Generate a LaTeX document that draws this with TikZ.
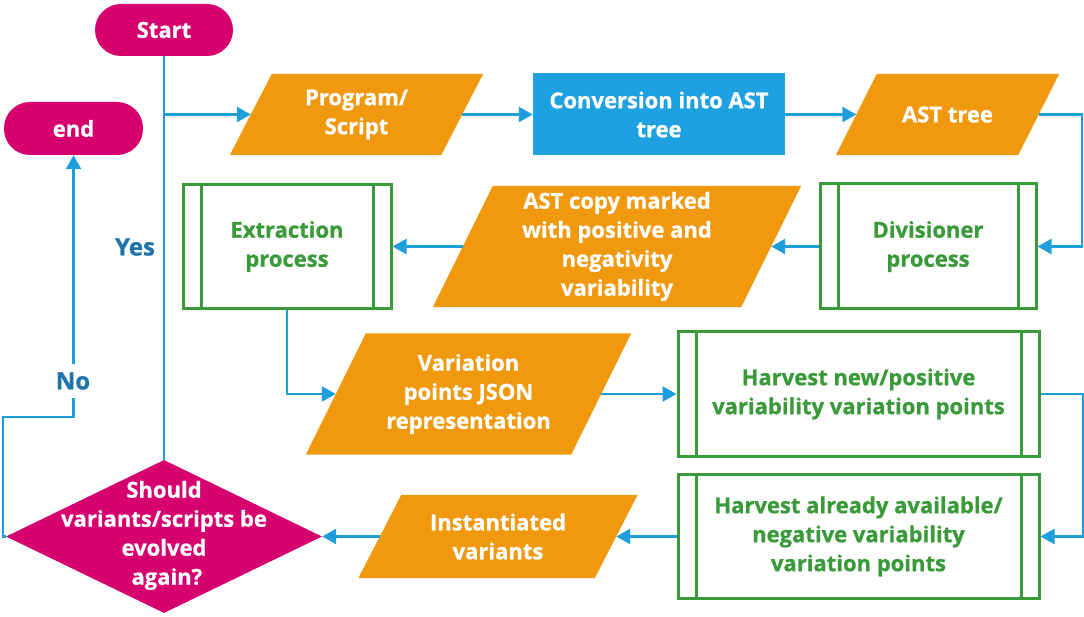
\documentclass[tikz,border=0pt]{standalone}
\usepackage{fontspec}
\setmainfont{Open Sans}[BoldFont={Open Sans Bold}, BoldFeatures={FakeBold=0.8}]
\usetikzlibrary{arrows.meta,shapes.geometric,backgrounds}

\definecolor{termc}{HTML}{D6006F}
\definecolor{iocol}{HTML}{F0980E}
\definecolor{convc}{HTML}{1EA1E0}
\definecolor{flowc}{HTML}{1E9FDB}
\definecolor{procc}{HTML}{3A9A3A}
\definecolor{labc}{HTML}{1F74AC}

% slanted input/output box drawn behind a named node
\newcommand{\parafill}[2]{%
  \fill[iocol] ([xshift=-#2pt]#1.south west) -- ([xshift=#2pt]#1.north west)
    -- ([xshift=#2pt]#1.north east) -- ([xshift=-#2pt]#1.south east) -- cycle;}

\tikzset{
  txt/.style={font=\bfseries\fontsize{22}{29}\selectfont, align=center, inner sep=0pt},
  term/.style={txt, fill=termc, text=white, rounded corners=26pt},
  iobox/.style={txt, text=white},
  convbox/.style={txt, fill=convc, text=white},
  procbox/.style={txt, text=procc, draw=procc, line width=3pt,
    path picture={
      \draw[procc, line width=3pt]
        ([xshift=18pt]path picture bounding box.north west) -- ([xshift=18pt]path picture bounding box.south west)
        ([xshift=-18pt]path picture bounding box.north east) -- ([xshift=-18pt]path picture bounding box.south east);
    }},
  decbox/.style={shape=diamond, fill=termc, inner sep=0pt},
  link/.style={draw=flowc, line width=2.4pt},
  flow/.style={link, -{Triangle[length=14pt,width=15pt]}},
  answer/.style={font=\bfseries\fontsize{24}{28}\selectfont, text=labc, inner sep=0pt},
}

\begin{document}
\begin{tikzpicture}[x=1pt, y=-1pt]
\useasboundingbox (0,0) rectangle (1084,617);

% terminals
\node[term, minimum width=138pt, minimum height=52pt] (start) at (164,30) {Start};
\node[term, minimum width=139pt, minimum height=53pt] (stop) at (73.5,128.5) {end};

% top row
\node[iobox, minimum width=211pt, minimum height=81pt] (prog) at (356.5,114.5) {Program/\\Script};
\node[convbox, minimum width=252pt, minimum height=82pt] (conv) at (659,114.5) {Conversion into AST\\tree};
\node[iobox, minimum width=182pt, minimum height=81pt] (ast) at (947.5,114.5) {AST tree};

% second row
\node[procbox, minimum width=216pt, minimum height=125pt] (div) at (928,246.5) {Divisioner\\process};
\node[iobox, minimum width=308pt, minimum height=121pt] (copy) at (617,246.5) {AST copy marked\\with positive and\\negativity\\variability};
\node[procbox, minimum width=208pt, minimum height=124pt] (extr) at (287,246.5) {Extraction\\process};

% third row
\node[iobox, minimum width=265pt, minimum height=121pt] (var) at (468.5,394) {Variation\\points JSON\\representation};
\node[procbox, minimum width=361pt, minimum height=124pt] (hnew) at (858.5,394) {Harvest new/positive\\variability variation points};

% bottom row
\node[procbox, minimum width=361pt, minimum height=124pt] (hold) at (858.5,536.5) {Harvest already available/\\negative variability\\variation points};
\node[iobox, minimum width=236pt, minimum height=83pt] (inst) at (498,536.5) {Instantiated\\variants};
\node[decbox, minimum width=316pt, minimum height=153pt] (dec) at (164,536.5) {};
\node[txt, text=white] (dectext) at (164,535.5) {Should\\variants/scripts be\\evolved\\\ again?};

\begin{scope}[on background layer]
  \parafill{prog}{21}
  \parafill{ast}{20.5}
  \parafill{copy}{30}
  \parafill{var}{30}
  \parafill{inst}{21.5}
\end{scope}

% connectors
\coordinate (join) at (start.south |- prog.west);
\draw[link] (start.south) -- (dec.north);
\draw[flow] (join) -- (prog.west);
\draw[flow] (prog.east) -- (conv.west);
\draw[flow] (conv.east) -- (ast.west);
\draw[flow] (ast.east) -- ++(43,0) |- (div.east);
\draw[flow] (div.west) -- (copy.east);
\draw[flow] (copy.west) -- (extr.east);
\draw[flow] (extr.south) |- (var.west);
\draw[flow] (var.east) -- (hnew.west);
\draw[flow] (hnew.east) -- ++(43,0) |- (hold.east);
\draw[flow] (hold.west) -- (inst.east);
\draw[flow] (inst.west) -- (dec.east);

\coordinate (nobend) at (3,417);
\draw[flow] (dec.west) -- (dec.west -| nobend) -- (nobend) -- (nobend -| stop.south) -- (stop.south);

% branch labels
\node[answer, fill=white, minimum height=34pt, minimum width=40pt] (no) at (73,381) {No};
\node[answer] (yes) at (135,247) {Yes};
\end{tikzpicture}
\end{document}
